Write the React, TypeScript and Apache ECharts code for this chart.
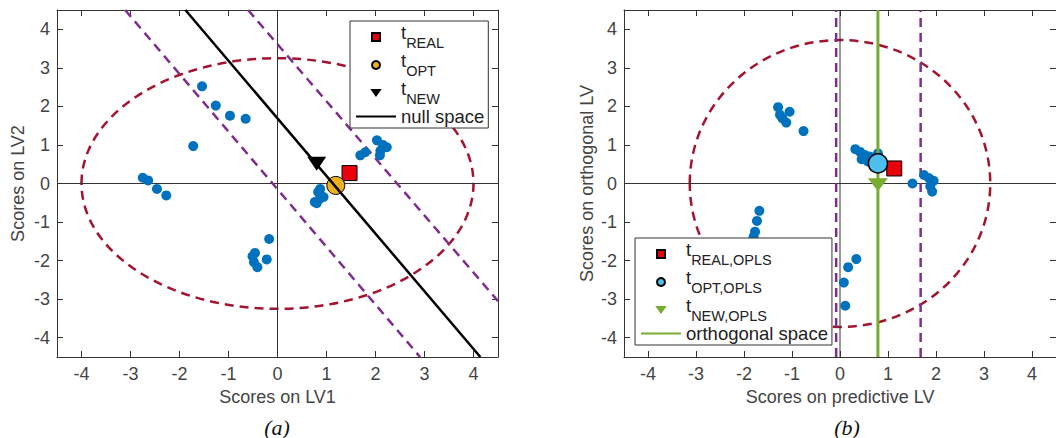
import { useEffect, useRef } from 'react';
import * as echarts from 'echarts';

// ---------- axis ----------
const AXIS_MIN = -4.5;
const AXIS_MAX = 4.5;
const TICKS = [-4, -3, -2, -1, 0, 1, 2, 3, 4];

// ---------- panel (a): PLS scores ----------
const LV_SCORES: number[][] = [
  [-1.54, 2.52], [-1.26, 2.02], [-0.97, 1.76], [-0.65, 1.68], [-1.72, 0.97],
  [-2.75, 0.15], [-2.64, 0.08], [-2.46, -0.14], [-2.27, -0.31],
  [-0.17, -1.44], [-0.46, -1.8], [-0.51, -1.89], [-0.22, -1.97], [-0.48, -2.04], [-0.41, -2.17],
  [0.87, -0.14], [0.83, -0.22], [0.94, -0.35], [0.86, -0.4], [0.8, -0.51], [0.76, -0.48],
  [1.69, 0.73], [1.79, 0.81], [2.03, 1.12], [2.1, 0.85], [2.23, 0.94], [2.09, 0.73], [2.15, 1.0],
];
const LV_REAL: number[][] = [[1.47, 0.27]];
const LV_OPT: number[][] = [[1.19, -0.05]];
const LV_NEW: number[][] = [[0.8, 0.51]];
const LV_NULL_SPACE: number[][] = [[-1.88, 4.5], [4.14, -4.5]];
const LV_BOUND_LOW: number[][] = [[-3.11, 4.5], [2.91, -4.5]];
const LV_BOUND_HIGH: number[][] = [[-0.6, 4.5], [4.5, -3.05]];
const LV_ELLIPSE: number[][] = [[0, 0, 4.0, 3.25]]; // cx, cy, rx, ry

// ---------- panel (b): OPLS scores ----------
const OPLS_SCORES: number[][] = [
  [-1.29, 1.98], [-1.25, 1.78], [-1.05, 1.86], [-1.2, 1.69], [-1.12, 1.58], [-0.76, 1.36],
  [-1.68, -0.71], [-1.73, -0.97], [-1.77, -1.25], [-1.8, -1.38], [-1.83, -1.5],
  [0.34, -1.96], [0.17, -2.17], [0.08, -2.57], [0.11, -3.17],
  [0.32, 0.89], [0.42, 0.82], [0.52, 0.74], [0.45, 0.63], [0.58, 0.57], [0.62, 0.7], [0.79, 0.78],
  [1.51, 0.0], [1.75, 0.22], [1.85, 0.14], [1.95, 0.07], [1.88, -0.07], [1.92, -0.21],
];
const OPLS_REAL: number[][] = [[1.13, 0.39]];
const OPLS_OPT: number[][] = [[0.79, 0.52]];
const OPLS_NEW: number[][] = [[0.79, -0.03]];
const OPLS_ORTH_SPACE: number[][] = [[0.79, -4.5], [0.79, 4.5]];
const OPLS_BOUND_LOW: number[][] = [[-0.08, -4.5], [-0.08, 4.5]];
const OPLS_BOUND_HIGH: number[][] = [[1.68, -4.5], [1.68, 4.5]];
const OPLS_ELLIPSE: number[][] = [[0, 0, 3.13, 3.72]];

// zero cross lines
const ZERO_H: number[][] = [[AXIS_MIN, 0], [AXIS_MAX, 0]];
const ZERO_V: number[][] = [[0, AXIS_MIN], [0, AXIS_MAX]];

// ---------- legend names ----------
const LEGEND_A = ['t_REAL', 't_OPT', 't_NEW', 'null space'];
const LEGEND_B = ['t_REAL,OPLS', 't_OPT,OPLS', 't_NEW,OPLS', 'orthogonal space'];

const FONT = "'Liberation Sans', Arial, Helvetica, sans-serif";
const C_BLUE = '#0072BD';
const C_RED = '#E8000B';
const C_ORANGE = '#EDB120';
const C_LBLUE = '#4DBEEE';
const C_GREEN = '#77AC30';
const C_PURPLE = '#7E2F8E';
const C_ELLIPSE = '#A2142F';
const TRI_DOWN = 'path://M0,0L20,0L10,14Z';
const SQUARE = 'path://M0,0L10,0L10,10L0,10Z';

function makeXAxis(gridIndex: number, position: string, name: string) {
  const bottom = position === 'bottom';
  return {
    type: 'value', gridIndex, position, min: AXIS_MIN, max: AXIS_MAX,
    name: bottom ? name : '', nameLocation: 'middle', nameGap: 25,
    nameTextStyle: { fontSize: 18, color: '#444', fontFamily: FONT },
    axisLine: { show: true, onZero: false, lineStyle: { color: '#333', width: 1 } },
    axisTick: { show: true, inside: true, length: 6, customValues: TICKS, lineStyle: { color: '#333' } },
    axisLabel: { show: bottom, customValues: TICKS, margin: 8, fontSize: 18, color: '#444', fontFamily: FONT },
    splitLine: { show: false },
  };
}
function makeYAxis(gridIndex: number, position: string, name: string, gap: number) {
  const left = position === 'left';
  return {
    type: 'value', gridIndex, position, min: AXIS_MIN, max: AXIS_MAX,
    name: left ? name : '', nameLocation: 'middle', nameGap: gap,
    nameTextStyle: { fontSize: 18, color: '#444', fontFamily: FONT },
    axisLine: { show: true, onZero: false, lineStyle: { color: '#333', width: 1 } },
    axisTick: { show: true, inside: true, length: 6, customValues: TICKS, lineStyle: { color: '#333' } },
    axisLabel: { show: left, customValues: TICKS, margin: 7, fontSize: 18, color: '#444', fontFamily: FONT },
    splitLine: { show: false },
  };
}

function ellipseSeries(axis: number, data: number[][]) {
  return {
    type: 'custom', xAxisIndex: axis, yAxisIndex: axis, silent: true, z: 1,
    renderItem: (_p: any, api: any) => {
      const c = api.coord([api.value(0), api.value(1)]);
      const s = api.size([api.value(2), api.value(3)]);
      return {
        type: 'ellipse',
        shape: { cx: c[0], cy: c[1], rx: s[0], ry: s[1] },
        style: { fill: 'none', stroke: C_ELLIPSE, lineWidth: 2.5, lineDash: [9, 6] },
      };
    },
    data,
  };
}
function lineSeries(axis: number, name: string, data: number[][], color: string, width: number, type: any, z: number) {
  return {
    type: 'line', name, xAxisIndex: axis, yAxisIndex: axis, data, z,
    symbol: 'none', showSymbol: false, silent: true, clip: true,
    lineStyle: { color, width, type },
    itemStyle: { color },
    emphasis: { disabled: true },
  };
}
function scatterSeries(axis: number, name: string, data: number[][], symbol: string, size: any, color: string, border: number, z: number) {
  return {
    type: 'scatter', name, xAxisIndex: axis, yAxisIndex: axis, data, z,
    symbol, symbolSize: size, silent: true,
    itemStyle: { color, borderColor: '#000', borderWidth: border, opacity: 1 },
    emphasis: { disabled: true },
  };
}

function legendFormatter(name: string) {
  if (name.startsWith('t_')) {
    return '{t|t}{s|' + name.slice(2) + '}';
  }
  return name;
}
function makeLegend(names: string[], left: number, top: number) {
  const data = names.map((n) =>
    n.startsWith('t_') ? { name: n } : { name: n, itemStyle: { opacity: 0, color: 'transparent', borderWidth: 0 } }
  );
  return {
    data, left, top, orient: 'vertical', z: 20,
    selectedMode: false,
    symbolKeepAspect: true,
    backgroundColor: '#fff', borderColor: '#333', borderWidth: 1,
    padding: [2, 4, 2, 5],
    itemWidth: 40, itemHeight: 8, itemGap: 1,
    formatter: legendFormatter,
    textStyle: {
      fontSize: 18.5, color: '#222', fontFamily: FONT,
      rich: {
        t: { fontSize: 18.5, color: '#222', fontFamily: FONT, padding: [0, 0, 9, 0] },
        s: { fontSize: 14.5, color: '#222', fontFamily: FONT, padding: [11, 0, 0, 0] },
      },
    },
  };
}

export default function App() {
  const ref = useRef<HTMLDivElement>(null);
  useEffect(() => {
    if (!ref.current) return;
    const chart = echarts.init(ref.current, undefined, { renderer: 'svg' });
    const option: any = {
      animation: false,
      backgroundColor: '#fff',
      grid: [
        { left: 57, top: 10, width: 441, height: 347 },
        { left: 624, top: 10, width: 440, height: 347 },
      ],
      xAxis: [
        makeXAxis(0, 'bottom', 'Scores on LV1'),
        makeXAxis(1, 'bottom', 'Scores on predictive LV'),
        makeXAxis(0, 'top', ''),
        makeXAxis(1, 'top', ''),
      ],
      yAxis: [
        makeYAxis(0, 'left', 'Scores on LV2', 30),
        makeYAxis(1, 'left', 'Scores on orthogonal LV', 28),
        makeYAxis(0, 'right', '', 0),
        makeYAxis(1, 'right', '', 0),
      ],
      legend: [makeLegend(LEGEND_A, 350, 21), makeLegend(LEGEND_B, 635, 238)],
      series: [
        // panel (a)
        lineSeries(0, 'zero-h-a', ZERO_H, '#333', 1, 'solid', 1),
        lineSeries(0, 'zero-v-a', ZERO_V, '#333', 1, 'solid', 1),
        ellipseSeries(0, LV_ELLIPSE),
        lineSeries(0, 'bound-low-a', LV_BOUND_LOW, C_PURPLE, 2.5, [9, 6], 2),
        lineSeries(0, 'bound-high-a', LV_BOUND_HIGH, C_PURPLE, 2.5, [9, 6], 2),
        scatterSeries(0, 'scores-a', LV_SCORES, 'circle', 10, C_BLUE, 0, 3),
        scatterSeries(0, LEGEND_A[0], LV_REAL, SQUARE, 15, C_RED, 1, 5),
        scatterSeries(0, LEGEND_A[1], LV_OPT, 'circle', 18, C_ORANGE, 1, 5),
        scatterSeries(0, LEGEND_A[2], LV_NEW, TRI_DOWN, [19, 14], '#000', 0, 5),
        lineSeries(0, LEGEND_A[3], LV_NULL_SPACE, '#000', 2.5, 'solid', 6),
        // panel (b)
        lineSeries(1, 'zero-h-b', ZERO_H, '#333', 1, 'solid', 1),
        lineSeries(1, 'zero-v-b', ZERO_V, '#333', 1, 'solid', 1),
        ellipseSeries(1, OPLS_ELLIPSE),
        lineSeries(1, 'bound-low-b', OPLS_BOUND_LOW, C_PURPLE, 2.5, [9, 6], 2),
        lineSeries(1, 'bound-high-b', OPLS_BOUND_HIGH, C_PURPLE, 2.5, [9, 6], 2),
        scatterSeries(1, 'scores-b', OPLS_SCORES, 'circle', 10, C_BLUE, 0, 3),
        lineSeries(1, LEGEND_B[3], OPLS_ORTH_SPACE, C_GREEN, 3, 'solid', 4),
        scatterSeries(1, LEGEND_B[0], OPLS_REAL, SQUARE, 15, C_RED, 1, 5),
        scatterSeries(1, LEGEND_B[1], OPLS_OPT, 'circle', 19, C_LBLUE, 1.5, 5),
        scatterSeries(1, LEGEND_B[2], OPLS_NEW, TRI_DOWN, [20, 13], C_GREEN, 0, 5),
      ],
      graphic: [
        {
          type: 'text', x: 277, y: 427, silent: true,
          style: { text: '(a)', fontSize: 22, fontStyle: 'italic', fontFamily: "'Liberation Serif', 'Times New Roman', serif", fill: '#111', align: 'center', verticalAlign: 'middle' },
        },
        {
          type: 'text', x: 847, y: 427, silent: true,
          style: { text: '(b)', fontSize: 22, fontStyle: 'italic', fontFamily: "'Liberation Serif', 'Times New Roman', serif", fill: '#111', align: 'center', verticalAlign: 'middle' },
        },
      ],
    };
    chart.setOption(option);
    return () => chart.dispose();
  }, []);
  return <div ref={ref} style={{ position: 'absolute', left: 0, top: 0, width: 1056, height: 438 }} />;
}
